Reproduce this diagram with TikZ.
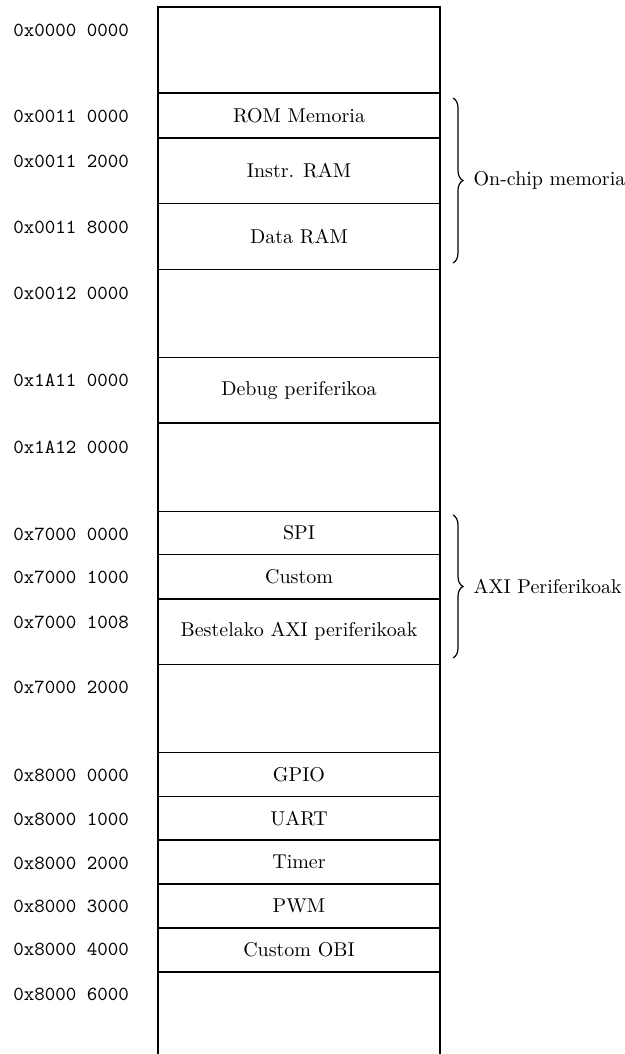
\documentclass[tikz,border=0pt]{standalone}
\usetikzlibrary{decorations.pathreplacing}
\begin{document}
\begin{tikzpicture}[x=0.5pt,y=-0.5pt,
  region/.style={draw, line width=0.8pt, minimum width=141pt, inner sep=0pt, outer sep=0pt, font=\normalsize},
  addr/.style={anchor=west, inner sep=0pt, font=\ttfamily},
  bracedeco/.style={decorate, decoration={brace, amplitude=5pt}, line width=0.6pt},
  bracelabel/.style={midway, anchor=west, inner sep=0pt, xshift=10pt}]
\useasboundingbox (0,0) rectangle (625,1054);
% memory regions
\node[region, minimum height=43pt]    (r0)    at (299,50)     {};
\node[region, minimum height=22.5pt]  (rom)   at (299,115.5)  {ROM Memoria};
\node[region, minimum height=32.75pt] (iram)  at (299,170.75) {Instr. RAM};
\node[region, minimum height=33pt]    (dram)  at (299,236.5)  {Data RAM};
\node[region, minimum height=44pt]    (g1)    at (299,313.5)  {};
\node[region, minimum height=32.75pt] (dbg)   at (299,390.25) {Debug periferikoa};
\node[region, minimum height=44.25pt] (g2)    at (299,467.25) {};
\node[region, minimum height=21.5pt]  (spi)   at (299,533)    {SPI};
\node[region, minimum height=22.25pt] (cust)  at (299,576.75) {Custom};
\node[region, minimum height=32.75pt] (axi)   at (299,631.75) {Bestelako AXI periferikoak};
\node[region, minimum height=44pt]    (g3)    at (299,708.5)  {};
\node[region, minimum height=22pt]    (gpio)  at (299,774.5)  {GPIO};
\node[region, minimum height=21.75pt] (uart)  at (299,818.25) {UART};
\node[region, minimum height=22pt]    (timer) at (299,862)    {Timer};
\node[region, minimum height=22pt]    (pwm)   at (299,906)    {PWM};
\node[region, minimum height=22pt]    (cobi)  at (299,950)    {Custom OBI};
% last open region
\coordinate (lastL) at (158,1054);
\coordinate (lastR) at (440,1054);
\draw[line width=0.8pt] (cobi.south west) -- (cobi.south west |- lastL);
\draw[line width=0.8pt] (cobi.south east) -- (cobi.south east |- lastR);
% address labels
\node[addr] (a0)  at (13,30)  {0x0000 0000};
\node[addr] (a1)  at (13,116) {0x0011 0000};
\node[addr] (a2)  at (13,161) {0x0011 2000};
\node[addr] (a3)  at (13,227) {0x0011 8000};
\node[addr] (a4)  at (13,293) {0x0012 0000};
\node[addr] (a5)  at (13,380) {0x1A11 0000};
\node[addr] (a6)  at (13,447) {0x1A12 0000};
\node[addr] (a7)  at (13,534) {0x7000 0000};
\node[addr] (a8)  at (13,577) {0x7000 1000};
\node[addr] (a9)  at (13,622) {0x7000 1008};
\node[addr] (a10) at (13,687) {0x7000 2000};
\node[addr] (a11) at (13,775) {0x8000 0000};
\node[addr] (a12) at (13,819) {0x8000 1000};
\node[addr] (a13) at (13,863) {0x8000 2000};
\node[addr] (a14) at (13,906) {0x8000 3000};
\node[addr] (a15) at (13,949) {0x8000 4000};
\node[addr] (a16) at (13,994) {0x8000 6000};
% braces
\coordinate (b1t) at (453,98);
\coordinate (b1b) at (453,263);
\coordinate (b2t) at (453,515);
\coordinate (b2b) at (453,658);
\draw[bracedeco] (b1t) -- node[bracelabel] (onchip) {On-chip memoria} (b1b);
\draw[bracedeco] (b2t) -- node[bracelabel] (axilbl) {AXI Periferikoak} (b2b);
\end{tikzpicture}
\end{document}
